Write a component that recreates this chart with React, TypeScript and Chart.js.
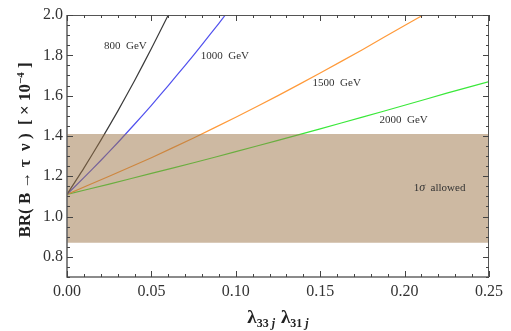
import React, { useEffect, useRef } from "react";
import { Chart, registerables } from "chart.js";
Chart.register(...registerables);

const xTicks = [0, 0.05, 0.1, 0.15, 0.2, 0.25];
const yTicks = [0.8, 1.0, 1.2, 1.4, 1.6, 1.8, 2.0];
const xMinorStep = 0.01;
const yMinorStep = 0.05;

const x800 = [0, 0.01, 0.02, 0.03, 0.04, 0.05, 0.06];
const y800 = [1.11, 1.24, 1.378, 1.522, 1.674, 1.834, 2.0];
const x1000 = [0, 0.01, 0.02, 0.03, 0.04, 0.05, 0.06, 0.07, 0.08, 0.09, 0.0938];
const y1000 = [1.11, 1.193, 1.278, 1.366, 1.458, 1.552, 1.65, 1.75, 1.853, 1.959, 2.0];
const x1500 = [0, 0.025, 0.05, 0.075, 0.1, 0.125, 0.15, 0.175, 0.2, 0.211];
const y1500 = [1.11, 1.2, 1.292, 1.39, 1.493, 1.6, 1.712, 1.828, 1.948, 2.0];
const x2000 = [0, 0.025, 0.05, 0.075, 0.1, 0.125, 0.15, 0.175, 0.2, 0.225, 0.25];
const y2000 = [1.11, 1.161, 1.214, 1.267, 1.322, 1.378, 1.435, 1.493, 1.552, 1.612, 1.67];

const bandLow = 0.87;
const bandHigh = 1.41;

const curveLabels = ["800  GeV", "1000  GeV", "1500  GeV", "2000  GeV"];
const labelX = [0.0346, 0.0935, 0.1598, 0.1994];
const labelY = [1.846, 1.797, 1.663, 1.479];
const bandLabelX = 0.2207;
const bandLabelY = 1.142;

const SERIF = "'Liberation Serif', 'Times New Roman', serif";

const zip = (xs: number[], ys: number[]) => xs.map((x, i) => ({ x, y: ys[i] }));

export default function App() {
  const ref = useRef<HTMLCanvasElement | null>(null);
  useEffect(() => {
    document.body.style.margin = "0";
    const canvas = ref.current!;
    const overlay = {
      id: "overlay",
      afterDraw(chart: any) {
        const ctx = chart.ctx as CanvasRenderingContext2D;
        const xs = chart.scales.x;
        const ys = chart.scales.y;
        const a = chart.chartArea;
        ctx.save();
        // frame
        ctx.strokeStyle = "#555";
        ctx.lineWidth = 1;
        ctx.beginPath();
        ctx.moveTo(a.left, a.top + 0.5);
        ctx.lineTo(a.right, a.top + 0.5);
        ctx.moveTo(a.right - 0.5, a.top);
        ctx.lineTo(a.right - 0.5, a.bottom);
        ctx.stroke();
        ctx.lineWidth = 1.6;
        ctx.strokeStyle = "#666";
        ctx.beginPath();
        ctx.moveTo(a.left, a.top);
        ctx.lineTo(a.left, a.bottom);
        ctx.lineTo(a.right, a.bottom);
        ctx.stroke();
        // ticks
        ctx.lineWidth = 1;
        ctx.strokeStyle = "#444";
        ctx.beginPath();
        for (let v = 0; v <= 0.25 + 1e-9; v += xMinorStep) {
          const major = xTicks.some((t) => Math.abs(t - v) < 1e-6);
          const L = major ? 6 : 3;
          const px = Math.round(xs.getPixelForValue(v)) + 0.5;
          ctx.moveTo(px, a.bottom);
          ctx.lineTo(px, a.bottom - L);
          ctx.moveTo(px, a.top);
          ctx.lineTo(px, a.top + L);
        }
        for (let v = 0.7; v <= 2.0 + 1e-9; v += yMinorStep) {
          const major = yTicks.some((t) => Math.abs(t - v) < 1e-6);
          const L = major ? 6 : 3;
          const py = Math.round(ys.getPixelForValue(v)) + 0.5;
          ctx.moveTo(a.left, py);
          ctx.lineTo(a.left + L, py);
          ctx.moveTo(a.right, py);
          ctx.lineTo(a.right - L, py);
        }
        ctx.stroke();
        // curve labels
        ctx.fillStyle = "#333";
        ctx.font = `11px ${SERIF}`;
        ctx.textAlign = "center";
        ctx.textBaseline = "middle";
        curveLabels.forEach((t, i) => {
          ctx.fillText(t, xs.getPixelForValue(labelX[i]), ys.getPixelForValue(labelY[i]));
        });
        // 1σ allowed
        const bx = xs.getPixelForValue(bandLabelX);
        const by = ys.getPixelForValue(bandLabelY);
        ctx.textAlign = "left";
        const p1 = "1";
        const p2 = "σ";
        const p3 = "  allowed";
        ctx.font = `11px ${SERIF}`;
        const w1 = ctx.measureText(p1).width;
        const w3 = ctx.measureText(p3).width;
        ctx.font = `italic 12px ${SERIF}`;
        const w2 = ctx.measureText(p2).width;
        let cx = bx - (w1 + w2 + w3) / 2;
        ctx.font = `11px ${SERIF}`;
        ctx.fillText(p1, cx, by);
        cx += w1;
        ctx.font = `italic 12px ${SERIF}`;
        ctx.fillText(p2, cx, by);
        cx += w2;
        ctx.font = `11px ${SERIF}`;
        ctx.fillText(p3, cx, by);

        // y title
        ctx.save();
        ctx.translate(26, 150);
        ctx.rotate(-Math.PI / 2);
        ctx.fillStyle = "#222";
        const main = "BR( B → τ  ν )  [ × 10";
        const sup = "−4";
        const end = " ]";
        ctx.font = `bold 17px ${SERIF}`;
        const wm = ctx.measureText(main).width;
        const we = ctx.measureText(end).width;
        ctx.font = `bold 11px ${SERIF}`;
        const ws = ctx.measureText(sup).width;
        let tx = -(wm + ws + we) / 2;
        ctx.textAlign = "left";
        ctx.textBaseline = "middle";
        ctx.font = `bold 17px ${SERIF}`;
        ctx.fillText(main, tx, 0);
        tx += wm;
        ctx.font = `bold 11px ${SERIF}`;
        ctx.fillText(sup, tx, -5);
        tx += ws;
        ctx.font = `bold 17px ${SERIF}`;
        ctx.fillText(end, tx, 0);
        ctx.restore();

        // x title
        const parts: [string, string, number][] = [
          ["λ", `bold 19px ${SERIF}`, 0],
          ["33", `bold 12px ${SERIF}`, 4],
          [" ", `bold 12px ${SERIF}`, 4],
          ["j", `bold italic 12px ${SERIF}`, 4],
          ["  ", `bold 12px ${SERIF}`, 4],
          ["λ", `bold 19px ${SERIF}`, 0],
          ["31", `bold 12px ${SERIF}`, 4],
          [" ", `bold 12px ${SERIF}`, 4],
          ["j", `bold italic 12px ${SERIF}`, 4],
        ];
        let total = 0;
        parts.forEach(([t, f]) => {
          ctx.font = f;
          total += ctx.measureText(t).width;
        });
        let px = 278 - total / 2;
        const base = 323;
        ctx.textBaseline = "alphabetic";
        ctx.fillStyle = "#222";
        parts.forEach(([t, f, dy]) => {
          ctx.font = f;
          ctx.fillText(t, px, base + dy);
          px += ctx.measureText(t).width;
        });
        ctx.restore();
      },
    };

    const lineDs = (label: string, data: any[], color: string) => ({
      label,
      data,
      borderColor: color,
      borderWidth: 1.2,
      pointRadius: 0,
      fill: false,
      tension: 0.2,
      order: 1,
    });

    const chart = new Chart(canvas, {
      type: "line",
      data: {
        datasets: [
          lineDs("800 GeV", zip(x800, y800), "#3a3a3a"),
          lineDs("1000 GeV", zip(x1000, y1000), "#5050ee"),
          lineDs("1500 GeV", zip(x1500, y1500), "#ff9a3a"),
          lineDs("2000 GeV", zip(x2000, y2000), "#3ae83a"),
          {
            label: "1σ allowed",
            data: [
              { x: 0, y: bandHigh },
              { x: 0.25, y: bandHigh },
            ],
            borderWidth: 0,
            borderColor: "rgba(0,0,0,0)",
            pointRadius: 0,
            backgroundColor: "rgba(155,115,69,0.5)",
            fill: { value: bandLow },
            order: -1,
          } as any,
        ],
      },
      options: {
        responsive: false,
        animation: false,
        layout: { padding: { left: 0, top: 15, right: 22, bottom: 0 } },
        plugins: { legend: { display: false }, tooltip: { enabled: false } },
        scales: {
          x: {
            type: "linear",
            min: 0,
            max: 0.25,
            grid: { display: false },
            border: { display: false },
            afterBuildTicks: (s: any) => {
              s.ticks = xTicks.map((v) => ({ value: v }));
            },
            afterFit: (s: any) => {
              s.height = 54;
            },
            ticks: {
              padding: -3,
              color: "#333",
              font: { family: SERIF, size: 16 },
              maxRotation: 0,
              callback: (v: any) => Number(v).toFixed(2),
            },
          },
          y: {
            type: "linear",
            min: 0.7,
            max: 2.0,
            grid: { display: false },
            border: { display: false },
            afterBuildTicks: (s: any) => {
              s.ticks = yTicks.map((v) => ({ value: v }));
            },
            afterFit: (s: any) => {
              s.width = 67;
            },
            ticks: {
              padding: -4,
              color: "#333",
              font: { family: SERIF, size: 16 },
              callback: (v: any) => Number(v).toFixed(1),
            },
          },
        },
      },
      plugins: [overlay],
    });
    return () => chart.destroy();
  }, []);
  return <canvas ref={ref} width={511} height={331} style={{ display: "block" }} />;
}
